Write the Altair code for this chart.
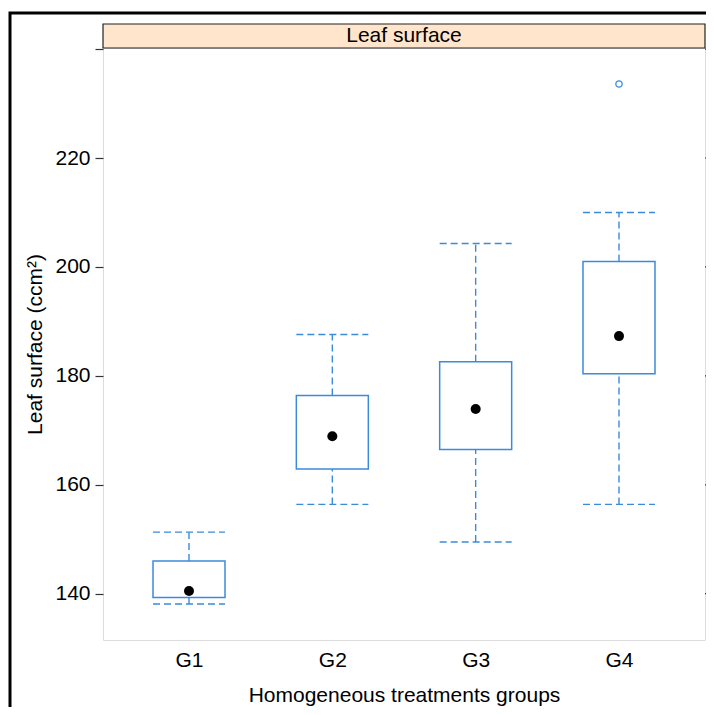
import altair as alt
import pandas as pd

# ---- data ----
groups = ["G1", "G2", "G3", "G4"]
lower_whisker = [138.1, 156.4, 149.5, 156.4]
q1 = [139.3, 162.9, 166.5, 180.4]
median = [140.5, 168.9, 173.9, 187.3]
q3 = [146.0, 176.4, 182.6, 201.0]
upper_whisker = [151.3, 187.6, 204.3, 210.0]
outlier_groups = ["G4"]
outlier_values = [233.6]
y_ticks = [140, 160, 180, 200, 220, 240]
strip_title = ["Leaf surface"]
x_title = "Homogeneous treatments groups"
y_title = "Leaf surface (ccm²)"

stats = pd.DataFrame({
    "group": groups, "lo": lower_whisker, "q1": q1,
    "med": median, "q3": q3, "hi": upper_whisker,
})
outliers = pd.DataFrame({"group": outlier_groups, "value": outlier_values})
ticks_df = pd.DataFrame({"v": y_ticks})
strip_df = pd.DataFrame({"label": strip_title})

W, H = 602, 592
BLUE = "#3b8bd9"
FONT = "Liberation Sans"
FS = 21
HALF = 36

y_dom = [131.5, 240.2]
xs = alt.Scale(type="point", domain=groups, padding=0.6)
ys = alt.Scale(domain=y_dom, nice=False, zero=False)

x_axis = alt.Axis(
    title=x_title, labelAngle=0, ticks=False, tickSize=0, domain=False,
    labelFontSize=FS, labelFont=FONT, labelColor="black",
    labelBaseline="middle", labelPadding=20,
    titleFontSize=FS, titleFont=FONT, titleColor="black", titleFontWeight="normal",
    titleY=55, titleBaseline="middle", grid=False,
)
y_axis = alt.Axis(
    title=y_title, values=y_ticks,
    labelExpr="datum.value == 240 ? '' : datum.label",
    tickSize=8, tickColor="#333333", tickWidth=1.2, domain=False, grid=False,
    labelFontSize=FS, labelFont=FONT, labelColor="black", labelPadding=5,
    titleFontSize=FS, titleFont=FONT, titleColor="black", titleFontWeight="normal",
    titleX=-68, titleY=296, titleAngle=270, titleAlign="center", titleBaseline="middle",
)

base = alt.Chart(stats)

border = alt.Chart(strip_df).mark_rect(
    fillOpacity=0, stroke="black", strokeWidth=3
).encode(
    x=alt.value(-93), x2=alt.value(640), y=alt.value(-35), y2=alt.value(700)
)

strip = alt.Chart(strip_df).mark_rect(
    fill="#FFE5CC", stroke="#222222", strokeWidth=1.2
).encode(
    x=alt.value(0), x2=alt.value(W), y=alt.value(-24), y2=alt.value(0)
)
strip_text = alt.Chart(strip_df).mark_text(
    font=FONT, fontSize=FS, color="black", baseline="middle", align="center"
).encode(
    x=alt.value(W / 2), y=alt.value(-12), text="label:N"
)

upper_rule = base.mark_rule(color=BLUE, strokeWidth=1.4, strokeDash=[7, 4]).encode(
    x=alt.X("group:N", scale=xs, axis=x_axis),
    y=alt.Y("q3:Q", scale=ys, axis=y_axis),
    y2="hi:Q",
)
lower_rule = base.mark_rule(color=BLUE, strokeWidth=1.4, strokeDash=[7, 4]).encode(
    x=alt.X("group:N", scale=xs),
    y=alt.Y("lo:Q", scale=ys),
    y2="q1:Q",
)
cap_hi = base.mark_rule(color=BLUE, strokeWidth=1.4, strokeDash=[7, 4],
                        xOffset=-HALF, x2Offset=HALF).encode(
    x=alt.X("group:N", scale=xs), x2="group:N",
    y=alt.Y("hi:Q", scale=ys),
)
cap_lo = base.mark_rule(color=BLUE, strokeWidth=1.4, strokeDash=[7, 4],
                        xOffset=-HALF, x2Offset=HALF).encode(
    x=alt.X("group:N", scale=xs), x2="group:N",
    y=alt.Y("lo:Q", scale=ys),
)
box = base.mark_rect(fill="white", stroke=BLUE, strokeWidth=1.5,
                     xOffset=-HALF, x2Offset=HALF).encode(
    x=alt.X("group:N", scale=xs), x2="group:N",
    y=alt.Y("q1:Q", scale=ys), y2="q3:Q",
)
med = base.mark_point(filled=True, color="black", size=100, opacity=1, shape="circle").encode(
    x=alt.X("group:N", scale=xs),
    y=alt.Y("med:Q", scale=ys),
)
out = alt.Chart(outliers).mark_point(filled=False, color=BLUE, size=40, strokeWidth=1.3,
                                     opacity=1, shape="circle").encode(
    x=alt.X("group:N", scale=xs),
    y=alt.Y("value:Q", scale=ys),
)
right_ticks = alt.Chart(ticks_df).mark_rule(color="#333333", strokeWidth=1.2).encode(
    x=alt.value(W), x2=alt.value(W + 8),
    y=alt.Y("v:Q", scale=ys),
)

chart = alt.layer(
    border, strip, strip_text, upper_rule, lower_rule, cap_hi, cap_lo, box, med, out, right_ticks
).properties(
    width=W, height=H,
    padding={"left": 95, "top": 40, "right": 1, "bottom": 67},
    autosize=alt.AutoSizeParams(type="none"),
).configure_view(
    stroke="#333333", strokeWidth=1.2
).configure(background="white")

chart.save("out.html", embed_options={"renderer": "svg", "actions": False})
